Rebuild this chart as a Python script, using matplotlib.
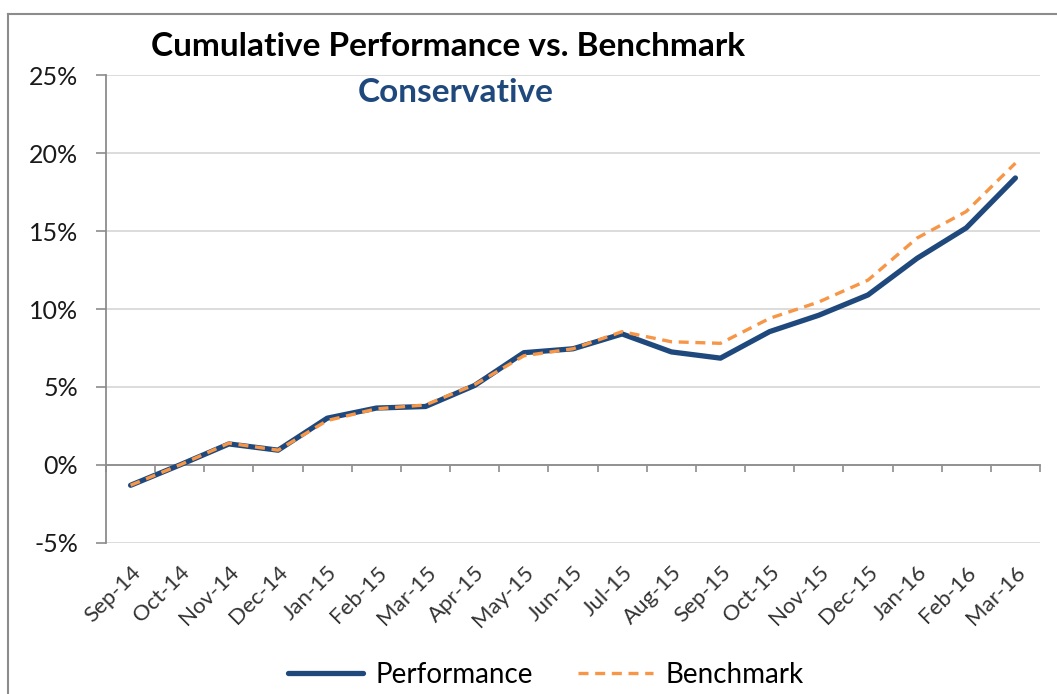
import matplotlib.pyplot as plt
from matplotlib.lines import Line2D
from matplotlib.ticker import FuncFormatter

plt.rcParams['font.family'] = ['Lato', 'DejaVu Sans']

# months on the category axis
months = ['Sep-14', 'Oct-14', 'Nov-14', 'Dec-14', 'Jan-15', 'Feb-15', 'Mar-15',
          'Apr-15', 'May-15', 'Jun-15', 'Jul-15', 'Aug-15', 'Sep-15', 'Oct-15',
          'Nov-15', 'Dec-15', 'Jan-16', 'Feb-16', 'Mar-16']

# cumulative returns (%)
performance = [-1.3, 0.0, 1.35, 0.95, 3.0, 3.65, 3.75, 5.1, 7.2, 7.45, 8.4,
               7.25, 6.85, 8.55, 9.6, 10.9, 13.25, 15.2, 18.4]
benchmark = [-1.3, 0.0, 1.4, 0.95, 2.85, 3.6, 3.85, 5.15, 7.0, 7.45, 8.55,
             7.9, 7.8, 9.4, 10.45, 11.85, 14.55, 16.25, 19.35]

yticks = [-5, 0, 5, 10, 15, 20, 25]

fig = plt.figure(figsize=(10.57, 6.94), dpi=100)
ax = fig.add_axes([0.1003, 0.2176, 0.8836, 0.6743])

x = list(range(len(months)))
ax.plot(x, performance, color='#1F497D', linewidth=3.8, solid_capstyle='round',
        label='Performance', zorder=3)
ax.plot(x, benchmark, color='#F79646', linewidth=2.4, linestyle=(0, (3, 2)),
        label='Benchmark', zorder=4)

ax.set_xlim(-0.5, len(months) - 0.5)
ax.set_ylim(-5, 25)
ax.set_yticks(yticks)
ax.yaxis.set_major_formatter(FuncFormatter(lambda v, p: f'{v:.0f}%'))
ax.grid(axis='y', color='#D9D9D9', linewidth=1.3)
ax.set_axisbelow(True)

for s in ['top', 'right']:
    ax.spines[s].set_visible(False)
ax.spines['left'].set_color('#8C8C8C')
ax.spines['left'].set_linewidth(1.3)
ax.spines['bottom'].set_position(('data', 0))
ax.spines['bottom'].set_color('#8C8C8C')
ax.spines['bottom'].set_linewidth(1.3)

ax.tick_params(axis='y', direction='out', length=7, width=1.2, color='#8C8C8C',
               labelsize=18, labelcolor='#1a1a1a', pad=13)
ax.set_xticks(x)
ax.set_xticklabels(months, rotation=45, ha='right', rotation_mode='anchor',
                   fontsize=16, color='#333333')
ax.tick_params(axis='x', which='major', length=0, pad=70)
ax.set_xticks([i - 0.5 for i in range(len(months) + 1)], minor=True)
ax.tick_params(axis='x', which='minor', direction='out', length=5, width=1.2,
               color='#8C8C8C')

fig.text(448 / 1057, 1 - 46 / 694, 'Cumulative Performance vs. Benchmark',
         ha='center', va='center', fontsize=24, fontweight='bold', color='black')
fig.text(456 / 1057, 1 - 92 / 694, 'Conservative', ha='center', va='center',
         fontsize=24, fontweight='bold', color='#1F497D')

fig.legend(loc='center', bbox_to_anchor=(546 / 1057, 1 - 675 / 694), ncol=2,
           frameon=False, fontsize=20, handlelength=2.7, columnspacing=1.6,
           handletextpad=0.45)

# outer chart border (only top and left edges visible)
fig.add_artist(Line2D([8 / 1057, 1], [1 - 14 / 694, 1 - 14 / 694],
                      transform=fig.transFigure, color='#8C8C8C', linewidth=1.5))
fig.add_artist(Line2D([8 / 1057, 8 / 1057], [0, 1 - 14 / 694],
                      transform=fig.transFigure, color='#8C8C8C', linewidth=1.5))

plt.savefig('out.png', dpi=100)
